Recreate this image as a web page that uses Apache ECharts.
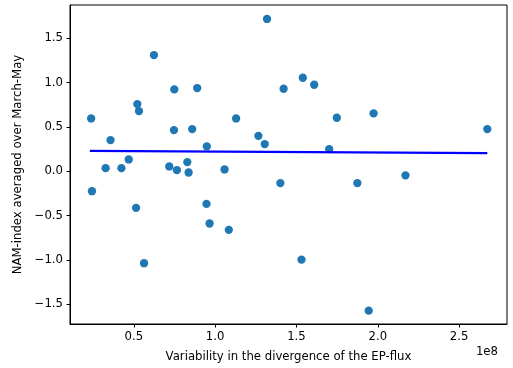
<!DOCTYPE html>
<html>
<head>
<meta charset="utf-8">
<script src="https://cdn.jsdelivr.net/npm/echarts@6/dist/echarts.min.js"></script>
<style>html,body{margin:0;padding:0;background:#fff;}#c{width:513px;height:368px;}</style>
</head>
<body>
<div id="c"></div>
<script>
// x values are in units of 1e8 (shown as the "1e8" offset text)
const xValues = [0.238,0.327,0.357,0.424,0.469,0.522,0.532,0.624,0.718,0.749,0.747,0.765,0.829,0.837,0.859,0.890,0.949,1.058,1.129,1.266,1.305,1.319,1.421,1.539,1.609,1.748,1.974,1.701,2.170,2.673,0.243,0.514,0.563,0.947,0.966,1.084,1.401,1.874,1.531,1.944];
const yValues = [0.594,0.034,0.350,0.034,0.132,0.756,0.677,1.309,0.053,0.922,0.463,0.011,0.102,-0.015,0.474,0.937,0.279,0.019,0.594,0.398,0.305,1.716,0.929,1.053,0.974,0.602,0.651,0.248,-0.047,0.474,-0.226,-0.414,-1.038,-0.369,-0.590,-0.662,-0.135,-0.135,-0.997,-1.573];
// fitted line end points
const fitX = [0.230, 2.673];
const fitY = [0.229, 0.203];
const xTicks = [0.5, 1.0, 1.5, 2.0, 2.5];
const yTicks = [-1.5, -1.0, -0.5, 0.0, 0.5, 1.0, 1.5];
const xLabel = 'Variability in the divergence of the EP-flux';
const yLabel = 'NAM-index averaged over March-May';
const offsetText = '1e8';

const fmt = v => (v < 0 ? '\u2212' + Math.abs(v).toFixed(1) : v.toFixed(1));
const font = 'DejaVu Sans';
const fs = 11.7;
const chart = echarts.init(document.getElementById('c'), null, {renderer: 'canvas'});
chart.setOption({
  animation: false,
  backgroundColor: '#fff',
  grid: {left: 70, right: 6, top: 5, bottom: 42, show: true, borderColor: '#000', borderWidth: 1, backgroundColor: 'transparent'},
  xAxis: {
    type: 'value', min: 0.108, max: 2.794,
    name: xLabel, nameLocation: 'middle', nameGap: 27,
    nameTextStyle: {fontFamily: font, fontSize: fs, color: '#000'},
    axisLine: {show: true, onZero: false, lineStyle: {color: '#000', width: 1}},
    axisTick: {show: true, length: 3.5, customValues: xTicks, lineStyle: {color: '#000'}},
    axisLabel: {customValues: xTicks, formatter: fmt, fontFamily: font, fontSize: fs, color: '#000', margin: 7},
    splitLine: {show: false}
  },
  yAxis: {
    type: 'value', min: -1.7235, max: 1.8735,
    name: yLabel, nameLocation: 'middle', nameGap: 42,
    nameTextStyle: {fontFamily: font, fontSize: fs, color: '#000'},
    axisLine: {show: true, onZero: false, lineStyle: {color: '#000', width: 1}},
    axisTick: {show: true, length: 3.5, customValues: yTicks, lineStyle: {color: '#000'}},
    axisLabel: {customValues: yTicks, formatter: fmt, fontFamily: font, fontSize: fs, color: '#000', margin: 7},
    splitLine: {show: false}
  },
  graphic: [{
    type: 'text', right: 15, top: 346,
    style: {text: offsetText, fontFamily: font, fontSize: fs, fill: '#000'}
  }],
  series: [
    {
      type: 'scatter', symbolSize: 8.3,
      itemStyle: {color: '#1f77b4', opacity: 1},
      data: xValues.map((x, i) => [x, yValues[i]]), z: 2
    },
    {
      type: 'line', showSymbol: false, symbol: 'none',
      lineStyle: {color: '#0000ff', width: 2.2},
      data: fitX.map((x, i) => [x, fitY[i]]), z: 3
    }
  ]
});
</script>
</body>
</html>
